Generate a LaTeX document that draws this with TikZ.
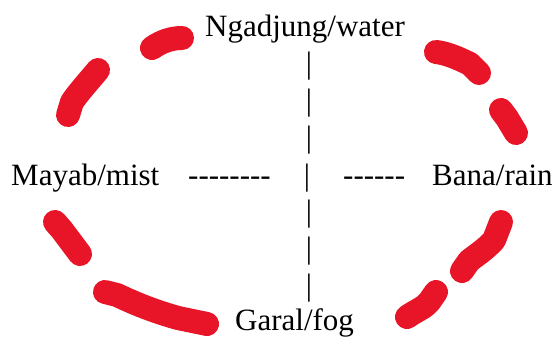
\documentclass[tikz,border=0pt]{standalone}
\usepackage{fontspec}
\setmainfont{Liberation Serif}
\newfontfamily\plainserif{Liberation Serif}
\definecolor{dashred}{RGB}{232,20,40}
\tikzset{
  lbl/.style={inner sep=0pt, anchor=base west, font=\fontsize{31}{37}\selectfont},
  hyph/.style={inner sep=0pt, anchor=base west, font=\plainserif\fontsize{31}{37}\selectfont},
  bar/.style={inner sep=0pt, anchor=base, font=\fontsize{31}{37}\selectfont},
  redstroke/.style={draw=dashred, line width=24pt, line cap=round, line join=round}
}
\begin{document}
\begin{tikzpicture}[x=1pt,y=-1pt]
\useasboundingbox (0,0) rectangle (558,338);
% labels
\node[inner sep=0pt, anchor=base, font=\fontsize{31}{37}\selectfont] (water) at (305,36) {Ngadjung/water};
\node[lbl] (mist) at (11,185) {Mayab/mist};
\node[hyph] (dl) at (188,185) {--------};
\node[bar] (mid) at (307,185) {|};
\node[hyph] (dr) at (343,185) {------};
\node[lbl] (rain) at (432,185) {Bana/rain};
\node[lbl] (fog) at (235,330) {Garal/fog};
% vertical bars
\node[bar] (b1) at (309,73) {|};
\node[bar] (b2) at (309,110) {|};
\node[bar] (b3) at (309,147) {|};
\node[bar] (b5) at (309,221) {|};
\node[bar] (b6) at (309,258) {|};
\node[bar] (b7) at (309,295) {|};
% red strokes
\draw[redstroke] (152,48) .. controls (162,41) and (172,38) .. (182,38);
\draw[redstroke] (98,70) .. controls (88,82) and (78,93) .. (72,102) -- (68,115);
\draw[redstroke] (436,52) .. controls (446,53) and (458,58) .. (470,64) -- (479,73);
\draw[redstroke] (501,110) -- (507,118) -- (516,133);
\draw[redstroke] (55,222) -- (62,230) -- (80,254);
\draw[redstroke] (105,292) -- (117,295) .. controls (140,306) and (160,313) .. (178,318) -- (207,324);
\draw[redstroke] (501,222) -- (494,240) .. controls (485,250) and (475,256) .. (469,261) -- (462,271);
\draw[redstroke] (436,292) -- (429,302) .. controls (424,308) and (417,310) .. (407,317);
\end{tikzpicture}
\end{document}
